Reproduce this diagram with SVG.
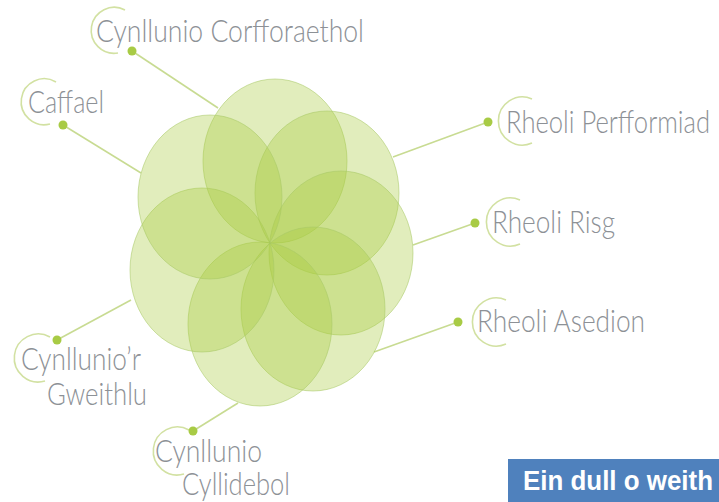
<svg xmlns="http://www.w3.org/2000/svg" width="719" height="502" viewBox="0 0 719 502">
<defs>
<style>
.petal{fill:#a9cc3f;fill-opacity:0.35;stroke:#a8c866;stroke-opacity:0.55;stroke-width:1}
.conn{stroke:#c8db92;stroke-width:1.6;fill:none}
.dot{fill:#a8cb45}
.arc{stroke:#d2e1a2;stroke-width:1.6;fill:none}
.lbl{font-family:Lato,"Open Sans","Liberation Sans",sans-serif;font-weight:300;font-size:31px;fill:#8d9196}
.box{fill:#4f81bd}
.boxt{font-family:"Liberation Sans",Arial,sans-serif;font-weight:bold;font-size:27px;fill:#ffffff}
</style>
</defs>
<rect width="719" height="502" fill="#ffffff"/>
<g id="connectors">
<line class="conn" x1="132" y1="51" x2="218" y2="108"/>
<line class="conn" x1="63" y1="125" x2="141" y2="173"/>
<line class="conn" x1="488" y1="122" x2="393" y2="157"/>
<line class="conn" x1="475" y1="223" x2="413" y2="245"/>
<line class="conn" x1="458" y1="322" x2="374" y2="352"/>
<line class="conn" x1="57" y1="340" x2="131" y2="300"/>
<line class="conn" x1="193" y1="431" x2="238" y2="403"/>
</g>
<g id="flower">
<ellipse class="petal" cx="275" cy="161" rx="72" ry="82"/>
<ellipse class="petal" cx="327" cy="193" rx="72" ry="82"/>
<ellipse class="petal" cx="341" cy="253" rx="72" ry="82"/>
<ellipse class="petal" cx="313" cy="309" rx="72" ry="82"/>
<ellipse class="petal" cx="260" cy="324" rx="72" ry="82"/>
<ellipse class="petal" cx="202" cy="270" rx="72" ry="82"/>
<ellipse class="petal" cx="210" cy="197" rx="72" ry="82"/>
</g>
<g id="node-corfforaethol">
<path class="arc" d="M125,10 A23,23 0 1 0 118,53"/>
<circle class="dot" cx="132" cy="51" r="4.5"/>
<text class="lbl" x="96" y="42" textLength="268" lengthAdjust="spacingAndGlyphs">Cynllunio Corfforaethol</text>
</g>
<g id="node-caffael">
<path class="arc" d="M56,82 A23,23 0 1 0 50,124"/>
<circle class="dot" cx="63" cy="125" r="4.5"/>
<text class="lbl" x="28" y="113" textLength="76" lengthAdjust="spacingAndGlyphs">Caffael</text>
</g>
<g id="node-perfformiad">
<path class="arc" d="M532,99 A24,24 0 1 0 532,143"/>
<circle class="dot" cx="488" cy="122" r="4.5"/>
<text class="lbl" x="506" y="133" textLength="204" lengthAdjust="spacingAndGlyphs">Rheoli Perfformiad</text>
</g>
<g id="node-risg">
<path class="arc" d="M520,200 A24,24 0 1 0 520,244"/>
<circle class="dot" cx="475" cy="223" r="4.5"/>
<text class="lbl" x="492" y="233" textLength="123" lengthAdjust="spacingAndGlyphs">Rheoli Risg</text>
</g>
<g id="node-asedion">
<path class="arc" d="M506,300 A24,24 0 1 0 506,344"/>
<circle class="dot" cx="458" cy="322" r="4.5"/>
<text class="lbl" x="477" y="332" textLength="168" lengthAdjust="spacingAndGlyphs">Rheoli Asedion</text>
</g>
<g id="node-gweithlu">
<path class="arc" d="M50,337 A24,24 0 1 0 45,381"/>
<circle class="dot" cx="57" cy="340" r="4.5"/>
<text class="lbl" x="21" y="370" textLength="120" lengthAdjust="spacingAndGlyphs">Cynllunio’r</text>
<text class="lbl" x="47" y="405" textLength="100" lengthAdjust="spacingAndGlyphs">Gweithlu</text>
</g>
<g id="node-cyllidebol">
<path class="arc" d="M189,430 A24,24 0 1 0 184,474"/>
<circle class="dot" cx="193" cy="431" r="4.5"/>
<text class="lbl" x="155" y="462" textLength="107" lengthAdjust="spacingAndGlyphs">Cynllunio</text>
<text class="lbl" x="182" y="495" textLength="108" lengthAdjust="spacingAndGlyphs">Cyllidebol</text>
</g>
<g id="banner">
<rect class="box" x="508" y="459" width="211" height="43"/>
<text class="boxt" x="523" y="490" textLength="190" lengthAdjust="spacingAndGlyphs">Ein dull o weith</text>
</g>
</svg>
